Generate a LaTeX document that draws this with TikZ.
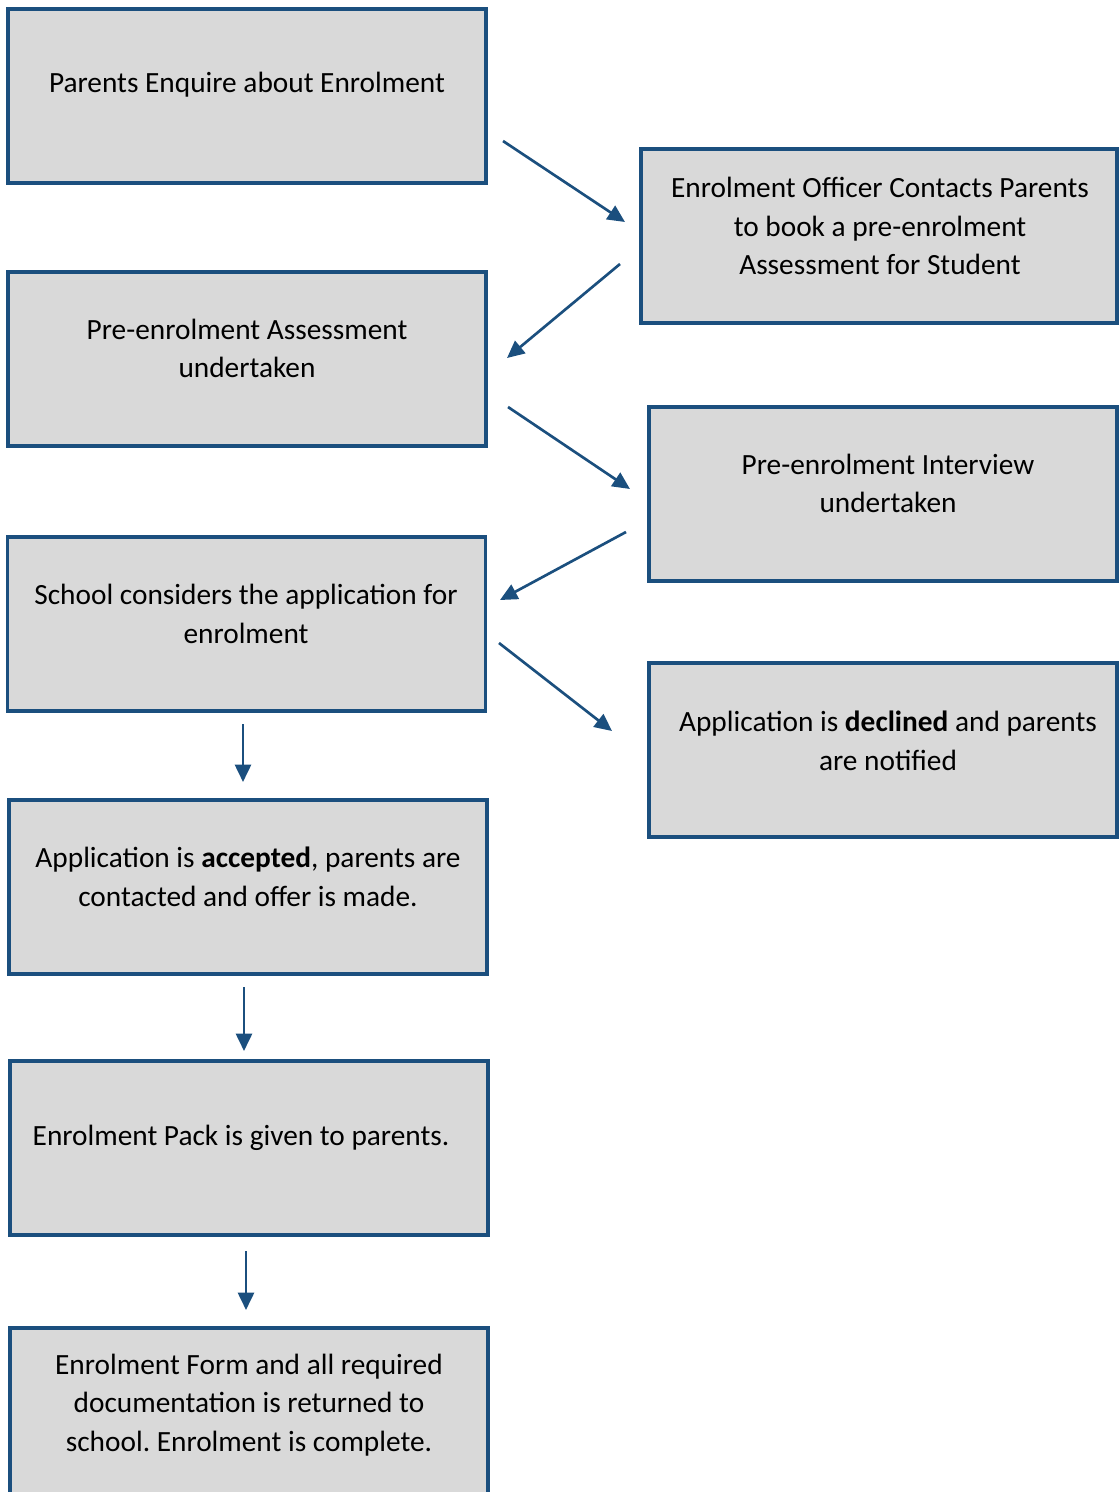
\documentclass[tikz,border=0pt]{standalone}
\usepackage{fontspec}
\setmainfont{Carlito}
\usetikzlibrary{arrows.meta}
\definecolor{boxblue}{HTML}{1B4F7E}
\definecolor{boxgrey}{HTML}{D9D9D9}
\frenchspacing
\tikzset{
  box/.style={draw=boxblue, fill=boxgrey, line width=2.4pt, inner sep=0pt,
    minimum width=358.5pt, minimum height=130.5pt},
  rbox/.style={box, minimum width=351pt},
  txt/.style={align=center, font=\fontsize{22}{29}\selectfont, inner sep=0pt},
  flow/.style={draw=boxblue, line width=2pt, -{Triangle[length=13pt,width=12pt]}}
}
\begin{document}
\begin{tikzpicture}[x=0.75pt,y=-0.75pt]
\useasboundingbox (0,0) rectangle (1118,1492);
\node [box] (enq) at (247,96) {};
\node [box, minimum width=357pt] (officer) at (879,236) {};
\node [box] (assess) at (247,359) {};
\node [rbox] (interview) at (883,494) {};
\node [box] (consider) at (246.5,624) {};
\node [rbox] (declined) at (883,750) {};
\node [box] (accepted) at (248,887) {};
\node [box] (pack) at (249,1148) {};
\node [box] (form) at (249,1415) {};
\node [txt] (tenq) at (247,85) {Parents Enquire about Enrolment};
\node [txt] (tofficer) at (880,226) {Enrolment Officer Contacts Parents\\to book a pre-enrolment\\Assessment for Student};
\node [txt] (tassess) at (247,348.5) {Pre-enrolment Assessment\\undertaken};
\node [txt] (tinterview) at (888,483.5) {Pre-enrolment Interview\\undertaken};
\node [txt] (tconsider) at (246,614) {School considers the application for\\enrolment};
\node [txt] (tdeclined) at (888,740.5) {Application is \textbf{declined} and parents\\are notified};
\node [txt] (taccepted) at (248,876.5) {Application is \textbf{accepted}, parents are\\contacted and offer is made.};
\node [txt] (tpack) at (241,1138) {Enrolment Pack is given to parents.};
\node [txt] (tform) at (249,1405) {Enrolment Form and all required\\documentation is returned to\\school. Enrolment is complete.};
\coordinate (P0) at (503,141);
\coordinate (P1) at (625,222);
\coordinate (P2) at (620,264);
\coordinate (P3) at (507,358);
\coordinate (P4) at (508,407);
\coordinate (P5) at (630,489);
\coordinate (P6) at (626,532);
\coordinate (P7) at (500,600);
\coordinate (P8) at (499,643);
\coordinate (P9) at (612,731);
\coordinate (P10) at (243,724);
\coordinate (P11) at (243,782);
\coordinate (P12) at (244,987);
\coordinate (P13) at (244,1051);
\coordinate (P14) at (246,1251);
\coordinate (P15) at (246,1310);
\draw [flow] (P0) -- (P1);
\draw [flow] (P2) -- (P3);
\draw [flow] (P4) -- (P5);
\draw [flow] (P6) -- (P7);
\draw [flow] (P8) -- (P9);
\draw [flow] (P10) -- (P11);
\draw [flow] (P12) -- (P13);
\draw [flow] (P14) -- (P15);
\end{tikzpicture}
\end{document}
